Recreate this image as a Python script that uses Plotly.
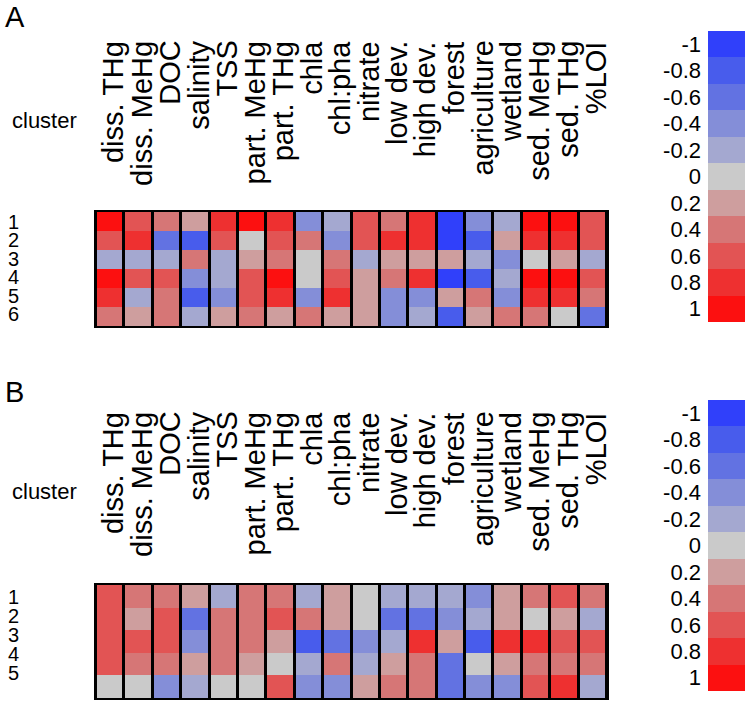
import plotly.graph_objects as go

variables = ["diss. THg", "diss. MeHg", "DOC", "salinity", "TSS", "part. MeHg",
             "part. THg", "chla", "chl:pha", "nitrate", "low dev.", "high dev.",
             "forest", "agriculture", "wetland", "sed. MeHg", "sed. THg", "%LOI"]

clusters_a = ["1", "2", "3", "4", "5", "6"]
values_a = [
    [1, 0.6, 0.4, 0.2, 0.8, 1, 0.8, -0.4, -0.2, 0.6, 0.4, 0.8, -1, -0.4, -0.2, 1, 1, 0.6],
    [0.6, 0.8, -0.6, -0.8, 0.6, 0, 0.6, 0.4, -0.4, 0.6, 0.8, 0.8, -1, -0.8, 0.2, 0.8, 0.8, 0.6],
    [-0.2, -0.2, -0.2, 0.4, -0.2, 0.2, 0.4, 0, 0.4, -0.2, 0.2, 0.2, 0.2, -0.2, -0.4, 0, 0.2, -0.2],
    [1, 0.6, 0.6, -0.4, -0.2, 0.6, 1, 0, 0.6, 0.2, 0.4, 0.8, -1, -0.8, -0.2, 1, 1, 0.6],
    [0.8, -0.2, 0.4, -0.8, -0.4, 0.6, 0.8, -0.4, 0.8, 0.2, -0.4, -0.4, 0.2, 0.4, -0.4, 0.8, 0.8, 0.4],
    [0.4, 0.2, 0.4, -0.2, 0.2, 0.4, 0.2, 0.4, 0.2, 0.2, -0.4, -0.2, -0.8, 0.2, 0.4, 0.4, 0, -0.6],
]

clusters_b = ["1", "2", "3", "4", "5"]
values_b = [
    [0.6, 0.4, 0.4, 0.2, -0.2, 0.4, 0.4, -0.2, 0.2, 0, -0.2, -0.2, -0.2, -0.4, 0.2, 0.4, 0.6, 0.4],
    [0.6, 0.2, 0.6, -0.6, 0.4, 0.4, 0.6, 0.4, 0.2, 0, -0.6, -0.6, -0.4, -0.2, 0.2, 0, 0.2, -0.2],
    [0.6, 0.6, 0.6, -0.4, 0.4, 0.4, 0.2, -0.8, -0.6, -0.4, -0.2, 0.8, 0.2, -0.8, 0.8, 0.8, 0.6, 0.6],
    [0.6, 0.4, 0.4, 0.2, 0.4, 0.2, 0, -0.2, 0.4, -0.2, 0.2, 0.4, -0.6, 0, 0.2, 0.4, 0.4, 0.4],
    [0, 0, -0.4, -0.2, 0, 0, 0.6, -0.4, -0.4, 0.2, 0.4, 0.4, -0.6, -0.4, -0.4, 0.6, 0.8, -0.2],
]

levels = [-1, -0.8, -0.6, -0.4, -0.2, 0, 0.2, 0.4, 0.6, 0.8, 1]
level_labels = ["-1", "-0.8", "-0.6", "-0.4", "-0.2", "0", "0.2", "0.4", "0.6", "0.8", "1"]
level_colors = ["rgb(48,64,250)", "rgb(72,92,236)", "rgb(98,114,226)", "rgb(132,142,216)",
                "rgb(164,168,208)", "rgb(202,202,202)", "rgb(206,158,158)", "rgb(214,118,118)",
                "rgb(226,84,84)", "rgb(238,48,48)", "rgb(252,16,16)"]

# discrete colorscale, bins centred on levels
n = len(level_colors)
colorscale = []
for i, c in enumerate(level_colors):
    colorscale.append([i / n, c])
    colorscale.append([(i + 1) / n, c])
ZMIN, ZMAX = -1.1, 1.1

W, H = 750, 706
def px_x(p): return p / W
def px_y(p): return 1 - p / H

FONT = "Liberation Sans, Arial, sans-serif"
fig = go.Figure()

panels = [
    dict(vals=values_a, cl=clusters_a, xa="x", ya="y", top=212, bottom=326,
         cb_top=31, cb_bot=322, head=40, clus=120, row0=222, rowstep=18.4, letter="A", let_y=17),
    dict(vals=values_b, cl=clusters_b, xa="x2", ya="y2", top=585, bottom=698,
         cb_top=400, cb_bot=691, head=411, clus=491, row0=597, rowstep=19, letter="B", let_y=392),
]

annotations = []
for k, p in enumerate(panels):
    nrows = len(p["cl"])
    fig.add_trace(go.Heatmap(
        z=p["vals"], x=list(range(len(variables))), y=list(range(1, nrows + 1)),
        colorscale=colorscale, zmin=ZMIN, zmax=ZMAX, showscale=False, xgap=3,
        xaxis=p["xa"], yaxis=p["ya"], hoverinfo="skip"))
    cbx = "x%d" % (k + 3)
    cby = "y%d" % (k + 3)
    fig.add_trace(go.Heatmap(
        z=[[v] for v in levels], x=[0], y=levels, colorscale=colorscale,
        zmin=ZMIN, zmax=ZMAX, showscale=False, xaxis=cbx, yaxis=cby, hoverinfo="skip"))
    sfx = "" if k == 0 else "2"
    fig.update_layout(**{
        "xaxis" + sfx: dict(domain=[px_x(96), px_x(607)], range=[-0.5, len(variables) - 0.5],
                            showticklabels=False, ticks="", showgrid=False, zeroline=False,
                            showline=True, mirror=True, linecolor="black", linewidth=2,
                            anchor="y" + sfx),
        "yaxis" + sfx: dict(domain=[px_y(p["bottom"]), px_y(p["top"])],
                            range=[nrows + 0.5, 0.5], showticklabels=False, ticks="",
                            showgrid=False, zeroline=False, showline=True, mirror=True,
                            linecolor="black", linewidth=2, anchor="x" + sfx),
        "xaxis%d" % (k + 3): dict(domain=[px_x(708), px_x(745)], range=[-0.5, 0.5],
                                  visible=False, anchor=cby),
        "yaxis%d" % (k + 3): dict(domain=[px_y(p["cb_bot"]), px_y(p["cb_top"])],
                                  range=[1.1, -1.1], tickvals=levels, ticktext=level_labels,
                                  ticks="", showgrid=False, zeroline=False, showline=False,
                                  side="left", anchor=cbx, ticklabelstandoff=6,
                                  tickfont=dict(family=FONT, size=22, color="black")),
    })
    for i, lab in enumerate(variables):
        annotations.append(dict(text=lab, x=i + 0.1, xref=p["xa"], y=px_y(p["head"]), yref="paper",
                                textangle=-90, xanchor="center", yanchor="top", showarrow=False,
                                borderpad=0,
                                font=dict(family=FONT, size=29, color="black")))
    for r, lab in enumerate(p["cl"]):
        annotations.append(dict(text=lab, x=px_x(7), xref="paper",
                                y=px_y(p["row0"] + p["rowstep"] * r), yref="paper",
                                xanchor="left", yanchor="middle", showarrow=False, borderpad=0,
                                font=dict(family=FONT, size=20, color="black")))
    annotations.append(dict(text="cluster", x=px_x(10), xref="paper", y=px_y(p["clus"]),
                            yref="paper", xanchor="left", yanchor="middle", showarrow=False,
                            font=dict(family=FONT, size=22, color="black")))
    annotations.append(dict(text=p["letter"], x=px_x(3), xref="paper", y=px_y(p["let_y"]),
                            yref="paper", xanchor="left", yanchor="middle", showarrow=False,
                            font=dict(family=FONT, size=29, color="black")))

fig.update_layout(width=W, height=H, margin=dict(l=0, r=0, t=0, b=0),
                  paper_bgcolor="white", plot_bgcolor="black",
                  annotations=annotations, showlegend=False)

fig.write_html("out.html", config={"displayModeBar": False},
               post_script="document.body.style.margin='0px';")
